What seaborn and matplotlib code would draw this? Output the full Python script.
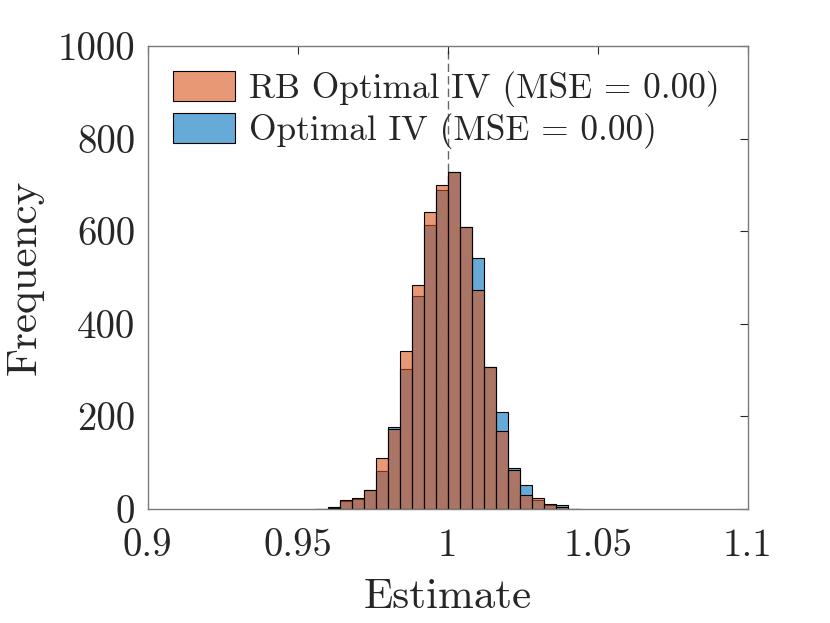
import numpy as np
import pandas as pd
import seaborn as sns
import matplotlib.pyplot as plt

# ---- data ----
bin_centers = [0.958, 0.962, 0.966, 0.970, 0.974, 0.978, 0.982, 0.986, 0.990, 0.994,
               0.998, 1.002, 1.006, 1.010, 1.014, 1.018, 1.022, 1.026, 1.030, 1.034,
               1.038, 1.042]
bin_edges = [0.956, 0.960, 0.964, 0.968, 0.972, 0.976, 0.980, 0.984, 0.988, 0.992,
             0.996, 1.000, 1.004, 1.008, 1.012, 1.016, 1.020, 1.024, 1.028, 1.032,
             1.036, 1.040, 1.044]
rb_optimal_counts = [0, 3, 19, 24, 42, 111, 172, 342, 483, 641,
                     700, 728, 610, 474, 307, 168, 85, 30, 23, 10, 5, 1]
optimal_counts = [0, 5, 18, 22, 40, 81, 178, 302, 460, 613,
                  689, 728, 610, 543, 307, 209, 89, 51, 19, 8, 8, 1]
series_labels = ["RB Optimal IV (MSE = 0.00)", "Optimal IV (MSE = 0.00)"]
x_ticks = [0.9, 0.95, 1.0, 1.05, 1.1]
x_tick_labels = ["0.9", "0.95", "1", "1.05", "1.1"]
y_ticks = [0, 200, 400, 600, 800, 1000]
y_tick_labels = ["0", "200", "400", "600", "800", "1000"]
true_value = 1.0

sns.set_theme(style="white")
plt.rcParams["font.family"] = ["cmr10", "DejaVu Serif"]
plt.rcParams["mathtext.fontset"] = "cm"
plt.rcParams["axes.formatter.use_mathtext"] = True

text_col = "#262626"
orange = "#D95319"
blue = "#0072BD"

fig = plt.figure(figsize=(8.3, 6.23), dpi=100)
ax = fig.add_axes([0.178, 0.183, 0.723, 0.743])

df_opt = pd.DataFrame({"x": bin_centers, "w": optimal_counts})
df_rb = pd.DataFrame({"x": bin_centers, "w": rb_optimal_counts})

ax.axvline(true_value, color="#666666", ls=(0, (6, 3)), lw=1.0, zorder=0.5)

sns.histplot(data=df_opt, x="x", weights="w", bins=bin_edges, ax=ax,
             color=blue, alpha=0.6, edgecolor="black", linewidth=0.8,
             label=series_labels[1])
sns.histplot(data=df_rb, x="x", weights="w", bins=bin_edges, ax=ax,
             color=orange, alpha=0.6, edgecolor="black", linewidth=0.8,
             label=series_labels[0])

ax.set_xlim(0.9, 1.1)
ax.set_ylim(0, 1000)
ax.set_xticks(x_ticks)
ax.set_xticklabels(x_tick_labels)
ax.set_yticks(y_ticks)
ax.set_yticklabels(y_tick_labels)
ax.tick_params(direction="in", top=True, right=True, length=6, width=0.8,
               labelsize=28, colors=text_col, pad=9)
ax.tick_params(axis="x", pad=14)
for s in ax.spines.values():
    s.set_color("#7a7a7a")
    s.set_linewidth(1.0)

ax.set_xlabel("Estimate", fontsize=31, color=text_col, labelpad=10)
ax.set_ylabel("Frequency", fontsize=31, color=text_col, labelpad=10)

handles, labels = ax.get_legend_handles_labels()
order = [labels.index(series_labels[0]), labels.index(series_labels[1])]
ax.legend([handles[i] for i in order], [labels[i] for i in order],
          loc="upper left", frameon=False, fontsize=25.5,
          handlelength=1.75, handleheight=0.95, handletextpad=0.4,
          labelspacing=0.15, borderpad=0.4, borderaxespad=0.3,
          labelcolor=text_col)

fig.savefig("out.png", dpi=100)
